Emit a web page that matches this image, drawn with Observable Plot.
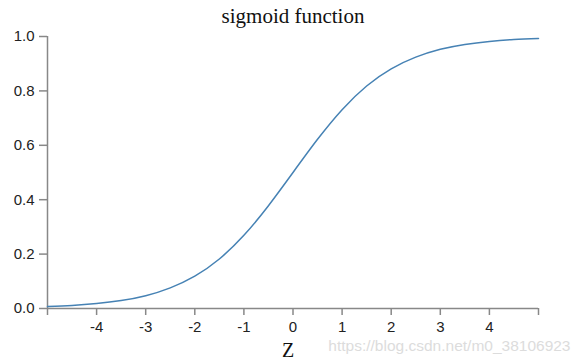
<!DOCTYPE html>
<html><head><meta charset="utf-8">
<script src="https://cdn.jsdelivr.net/npm/d3@7"></script>
<script src="https://cdn.jsdelivr.net/npm/@observablehq/plot@0.6"></script>
<style>html,body{margin:0;padding:0;background:#fff}#chart svg{display:block}</style>
</head><body><div id="chart"></div>
<script>
const zValues = [-5, -4.5, -4, -3.5, -3, -2.5, -2, -1.5, -1, -0.5, 0, 0.5, 1, 1.5, 2, 2.5, 3, 3.5, 4, 4.5, 5];
const sigmoidValues = [0.007, 0.011, 0.018, 0.029, 0.047, 0.076, 0.119, 0.182, 0.269, 0.378, 0.5, 0.622, 0.731, 0.818, 0.881, 0.924, 0.953, 0.971, 0.982, 0.989, 0.993];
const xTicks = [-5, -4, -3, -2, -1, 0, 1, 2, 3, 4, 5];
const xTickLabels = ["", "-4", "-3", "-2", "-1", "0", "1", "2", "3", "4", ""];
const yTicks = [0, 0.2, 0.4, 0.6, 0.8, 1.0];
const yTickLabels = ["0.0", "0.2", "0.4", "0.6", "0.8", "1.0"];
const titleText = "sigmoid function";
const xLabelText = "Z";
const watermarkText = "https://blog.csdn.net/m0_38106923";

const data = zValues.map((z, i) => ({z, s: sigmoidValues[i]}));
const axisColor = "#888";
const textColor = "#222";

const chart = Plot.plot({
  width: 580, height: 362,
  marginLeft: 47, marginRight: 42, marginTop: 36, marginBottom: 54,
  style: {fontFamily: "'Liberation Sans', Arial, sans-serif", fontSize: "15px", background: "#fff", color: textColor},
  x: {domain: [-5, 5]},
  y: {domain: [0, 1]},
  marks: [
    Plot.ruleY([0], {stroke: axisColor, strokeWidth: 1.5}),
    Plot.ruleX([-5], {stroke: axisColor, strokeWidth: 1.5}),
    Plot.axisX({ticks: xTicks, tickFormat: d => xTickLabels[xTicks.indexOf(d)], tickSize: 7, tickPadding: 6, stroke: axisColor, strokeWidth: 1.5, fill: textColor, fontSize: 15, label: null}),
    Plot.axisY({ticks: yTicks, tickFormat: d => yTickLabels[yTicks.indexOf(d)], tickSize: 8, tickPadding: 5, stroke: axisColor, strokeWidth: 1.5, fill: textColor, fontSize: 15, label: null}),
    Plot.line(data, {x: "z", y: "s", stroke: "#4682b4", strokeWidth: 1.5, curve: "natural"}),
    Plot.text([titleText], {text: d => d, frameAnchor: "top", lineAnchor: "bottom", dy: -14, fontFamily: "'Liberation Serif', 'Times New Roman', serif", fontSize: 21, fill: "#111"}),
    Plot.text([xLabelText], {text: d => d, frameAnchor: "bottom", lineAnchor: "bottom", dx: -5, dy: 48, fontFamily: "'Liberation Serif', 'Times New Roman', serif", fontSize: 20, fill: "#111"}),
    Plot.text([watermarkText], {text: d => d, frameAnchor: "bottom-right", textAnchor: "end", lineAnchor: "bottom", dx: 32, dy: 42, fontSize: 15.5, fill: "#dcdcdc"})
  ]
});
document.getElementById("chart").appendChild(chart);
</script>
</body></html>
